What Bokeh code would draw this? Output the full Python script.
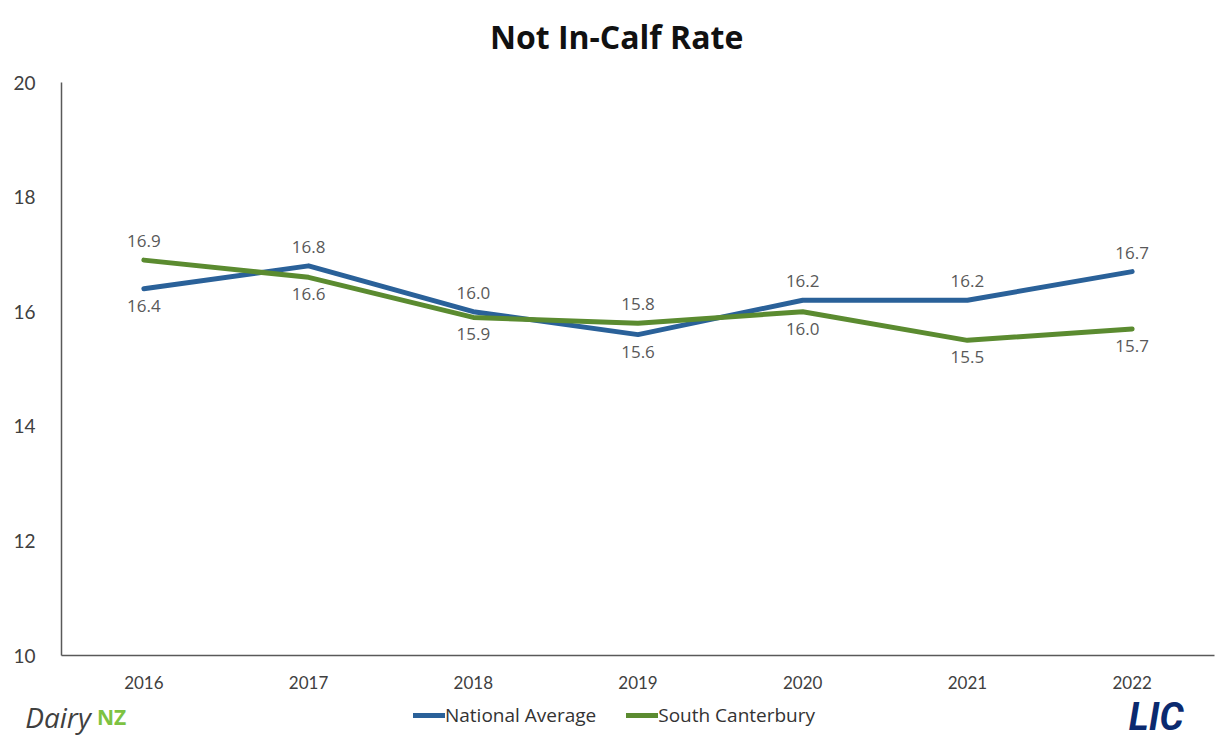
from bokeh.plotting import figure
from bokeh.models import (ColumnDataSource, Range1d, Legend, LegendItem, Label, FixedTicker,
                          LinearAxis)
from bokeh.core.properties import value
from bokeh.embed import file_html
from bokeh.resources import INLINE

years = ["2016", "2017", "2018", "2019", "2020", "2021", "2022"]
national = [16.4, 16.8, 16.0, 15.6, 16.2, 16.2, 16.7]
south_canterbury = [16.9, 16.6, 15.9, 15.8, 16.0, 15.5, 15.7]
# label placement: 1 = above the point, -1 = below
national_pos = [-1, 1, 1, -1, 1, 1, 1]
south_pos = [1, -1, -1, 1, -1, -1, -1]
y_ticks = [10, 12, 14, 16, 18, 20]

BLUE = "#2A6199"
GREEN = "#5B8B30"
TXT = "#595959"

# category slots: year i sits in the middle of slot [i, i+1]
xs = [i + 0.5 for i in range(len(years))]
n = len(years)
y_min, y_max = y_ticks[0], y_ticks[-1]

W, H = 1228, 738
left_px, right_px, top_px, bottom_px = 61, 1214, 82, 655
slot = (right_px - left_px) / n
unit = (bottom_px - top_px) / (y_max - y_min)

p = figure(width=W, height=H,
           x_range=Range1d(-left_px / slot, n + (W - right_px) / slot),
           y_range=Range1d(y_min - (H - bottom_px) / unit, y_max + top_px / unit),
           x_axis_type=None, y_axis_type=None,
           output_backend="svg", toolbar_location=None,
           min_border=0)
p.outline_line_color = None
p.background_fill_color = "white"
p.border_fill_color = "white"
p.xgrid.grid_line_color = None
p.ygrid.grid_line_color = None

yaxis = LinearAxis(fixed_location=0, bounds=(y_min, y_max), ticker=FixedTicker(ticks=y_ticks))
xaxis = LinearAxis(fixed_location=y_min, bounds=(0, n), ticker=FixedTicker(ticks=xs),
                   major_label_overrides={x: y for x, y in zip(xs, years)})
for ax in (xaxis, yaxis):
    ax.axis_line_color = "#595959"
    ax.axis_line_width = 1.5
    ax.major_tick_line_color = None
    ax.minor_tick_line_color = None
    ax.major_label_text_color = "#404040"
    ax.major_label_text_font = "Lato"
yaxis.major_label_text_font_size = "19px"
yaxis.major_label_standoff = 20
xaxis.major_label_text_font_size = "17px"
xaxis.major_label_standoff = 14
p.add_layout(yaxis, "left")
p.add_layout(xaxis, "below")

src_n = ColumnDataSource(dict(x=xs, y=national,
                              t=["%.1f" % v for v in national],
                              off=[-19 if s > 0 else 17 for s in national_pos]))
src_s = ColumnDataSource(dict(x=xs, y=south_canterbury,
                              t=["%.1f" % v for v in south_canterbury],
                              off=[-19 if s > 0 else 17 for s in south_pos]))

rn = p.line("x", "y", source=src_n, color=BLUE, line_width=5, line_cap="round", line_join="round")
rs = p.line("x", "y", source=src_s, color=GREEN, line_width=5, line_cap="round", line_join="round")

for src in (src_n, src_s):
    p.text("x", "y", text="t", source=src, y_offset="off", text_align="center",
           text_baseline="middle", text_font=value("Open Sans"), text_font_size="17px",
           text_color=TXT)

legend = Legend(items=[LegendItem(label="National Average", renderers=[rn]),
                       LegendItem(label="South Canterbury", renderers=[rs])],
                orientation="horizontal", location="bottom_center", glyph_width=32, glyph_height=12,
                label_standoff=0, spacing=30, padding=0, margin=10, border_line_color=None,
                background_fill_alpha=0,
                label_text_font="Open Sans", label_text_font_size="19px", label_text_color="#333333")
p.add_layout(legend)

title = Label(x=3.37, y=20.8, text="Not In-Calf Rate", text_align="center", text_baseline="middle",
              text_font="Open Sans", text_font_style="bold", text_font_size="32px", text_color="#111111")
p.add_layout(title)

logo_y = y_min - (716 - bottom_px) / unit
dairy = Label(x=-0.22, y=logo_y, text="Dairy", text_align="left", text_baseline="middle",
              text_font="Open Sans", text_font_style="italic", text_font_size="28px", text_color="#404040")
p.add_layout(dairy)
nz = Label(x=0.215, y=logo_y, text="NZ", text_align="left", text_baseline="middle",
           text_font="Open Sans", text_font_style="bold", text_font_size="21px", text_color="#7DC242")
p.add_layout(nz)
lic = Label(x=6.48, y=logo_y, text="LIC", text_align="left", text_baseline="middle",
            text_font="Roboto", text_font_style="bold italic", text_font_size="38px", text_color="#0B2A6F")
p.add_layout(lic)

open("out.html", "w").write(file_html(p, INLINE))
